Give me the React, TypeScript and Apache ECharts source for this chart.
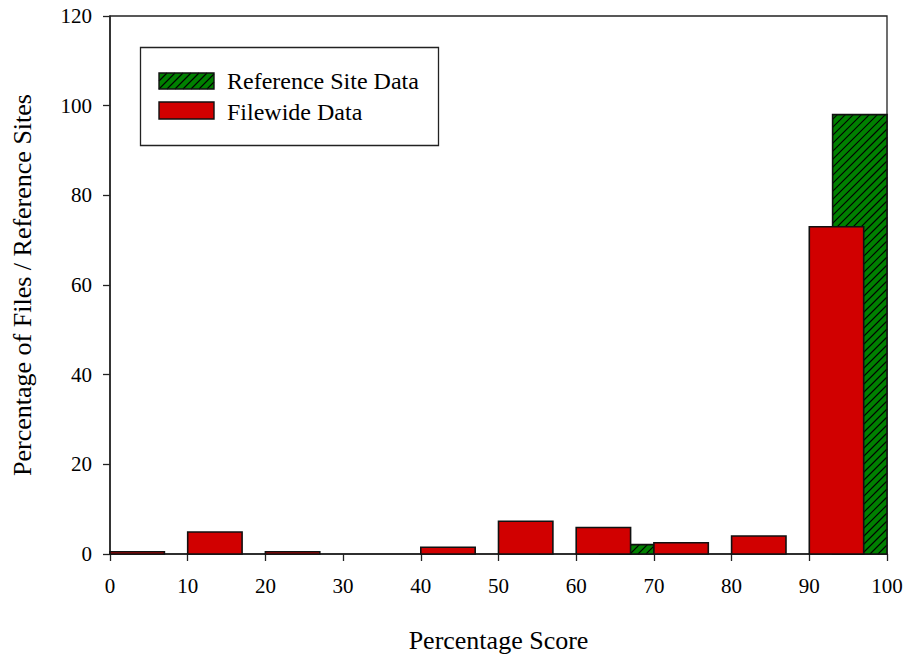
import React, { useEffect, useRef } from "react";
import * as echarts from "echarts";

// Histogram bins (lower edge of each 10-point score band)
const binStarts = [0, 10, 20, 30, 40, 50, 60, 70, 80, 90];
// Percentage of files per band
const filewideData = [0.5, 4.9, 0.5, 0, 1.5, 7.3, 5.9, 2.5, 4.0, 73.0];
// Percentage of reference sites per band
const referenceSiteData = [0, 0, 0, 0, 0, 0, 2.1, 0, 0, 98.0];

const xTicks = [0, 10, 20, 30, 40, 50, 60, 70, 80, 90, 100];
const yTicks = [0, 20, 40, 60, 80, 100, 120];

const RED = "#d10000";
const GREEN = "#008000";
const FONT = "Liberation Serif";
const HATCH_STEP = 8;

// Diagonal hatch segments (rising to the right) clipped to a rectangle
function hatchLines(x0: number, y0: number, x1: number, y1: number) {
  const out: number[][] = [];
  const cStart = Math.ceil((x0 + y0) / HATCH_STEP) * HATCH_STEP;
  for (let c = cStart; c <= x1 + y1; c += HATCH_STEP) {
    const xa = Math.max(x0, c - y1);
    const xb = Math.min(x1, c - y0);
    if (xb - xa < 0.5) continue;
    out.push([xa, c - xa, xb, c - xb]);
  }
  return out;
}

function makeBarRenderer(offset: number, width: number, color: string, hatched: boolean) {
  return (params: any, api: any) => {
    const start = api.value(0);
    const v = api.value(1);
    if (!v) return { type: "group", children: [] };
    const pTop = api.coord([start + offset, v]);
    const pBot = api.coord([start + offset + width, 0]);
    const x0 = pTop[0];
    const y0 = pTop[1];
    const x1 = pBot[0];
    const y1 = pBot[1];
    const children: any[] = [
      {
        type: "rect",
        shape: { x: x0, y: y0, width: x1 - x0, height: y1 - y0 },
        style: { fill: color, stroke: null },
      },
    ];
    if (hatched) {
      hatchLines(x0, y0, x1, y1).forEach((s) => {
        children.push({
          type: "line",
          shape: { x1: s[0], y1: s[1], x2: s[2], y2: s[3] },
          style: { stroke: "#000", lineWidth: 1.1 },
        });
      });
    }
    children.push({
      type: "rect",
      shape: { x: x0, y: y0, width: x1 - x0, height: y1 - y0 },
      style: { fill: null, stroke: "#111", lineWidth: 1.6 },
    });
    return { type: "group", children };
  };
}

function legendGraphics() {
  const items: any[] = [];
  items.push({
    type: "rect",
    shape: { x: 140.5, y: 47.5, width: 298, height: 98 },
    style: { fill: "#fff", stroke: "#222", lineWidth: 1.3 },
  });
  // Hatched patch
  const hx0 = 159, hy0 = 73, hx1 = 214, hy1 = 89;
  items.push({
    type: "rect",
    shape: { x: hx0, y: hy0, width: hx1 - hx0, height: hy1 - hy0 },
    style: { fill: GREEN },
  });
  hatchLines(hx0, hy0, hx1, hy1).forEach((s) => {
    items.push({
      type: "line",
      shape: { x1: s[0], y1: s[1], x2: s[2], y2: s[3] },
      style: { stroke: "#000", lineWidth: 1.1 },
    });
  });
  items.push({
    type: "rect",
    shape: { x: hx0, y: hy0, width: hx1 - hx0, height: hy1 - hy0 },
    style: { fill: null, stroke: "#111", lineWidth: 1.4 },
  });
  items.push({
    type: "rect",
    shape: { x: 159, y: 102, width: 55, height: 17 },
    style: { fill: RED, stroke: "#111", lineWidth: 1.4 },
  });
  items.push({
    type: "text",
    x: 227,
    y: 81,
    style: {
      text: "Reference Site Data",
      fontFamily: FONT,
      fontSize: 24,
      fill: "#000",
      verticalAlign: "middle",
    },
  });
  items.push({
    type: "text",
    x: 227,
    y: 112,
    style: {
      text: "Filewide Data",
      fontFamily: FONT,
      fontSize: 24,
      fill: "#000",
      verticalAlign: "middle",
    },
  });
  return items;
}

export default function App() {
  const ref = useRef<HTMLDivElement>(null);

  useEffect(() => {
    if (!ref.current) return;
    const chart = echarts.init(ref.current, undefined, { renderer: "svg" });
    const fileRows = binStarts.map((b, i) => [b, filewideData[i]]);
    const refRows = binStarts.map((b, i) => [b, referenceSiteData[i]]);

    chart.setOption({
      animation: false,
      backgroundColor: "#fff",
      grid: {
        left: 110,
        right: 20,
        top: 16,
        bottom: 98,
        show: true,
        borderColor: "#222",
        borderWidth: 1.3,
        backgroundColor: "transparent",
      },
      xAxis: {
        type: "value",
        min: xTicks[0],
        max: xTicks[xTicks.length - 1],
        interval: 10,
        name: "Percentage Score",
        nameLocation: "middle",
        nameGap: 73,
        nameTextStyle: { fontFamily: FONT, fontSize: 26, color: "#000" },
        axisLine: { onZero: false, lineStyle: { color: "#222", width: 1.5 } },
        axisTick: { inside: false, length: 7, lineStyle: { color: "#222", width: 1.3 } },
        axisLabel: { fontFamily: FONT, fontSize: 21, color: "#000", margin: 21 },
        splitLine: { show: false },
      },
      yAxis: {
        type: "value",
        min: yTicks[0],
        max: yTicks[yTicks.length - 1],
        interval: 20,
        name: "Percentage of Files / Reference Sites",
        nameLocation: "middle",
        nameGap: 75,
        nameTextStyle: { fontFamily: FONT, fontSize: 26, color: "#000" },
        axisLine: { show: true, lineStyle: { color: "#222", width: 1.5 } },
        axisTick: { show: true, inside: false, length: 7, lineStyle: { color: "#222", width: 1.3 } },
        axisLabel: { fontFamily: FONT, fontSize: 21, color: "#000", margin: 18 },
        splitLine: { show: false },
      },
      series: [
        {
          name: "Reference Site Data",
          type: "custom",
          renderItem: makeBarRenderer(3, 7, GREEN, true),
          encode: { x: 0, y: 1 },
          data: refRows,
          z: 2,
        },
        {
          name: "Filewide Data",
          type: "custom",
          renderItem: makeBarRenderer(0, 7, RED, false),
          encode: { x: 0, y: 1 },
          data: fileRows,
          z: 3,
        },
      ],
      graphic: legendGraphics(),
    });

    return () => chart.dispose();
  }, []);

  return (
    <div
      ref={ref}
      style={{ position: "fixed", left: 0, top: 0, width: "100vw", height: "100vh", overflow: "hidden" }}
    />
  );
}
